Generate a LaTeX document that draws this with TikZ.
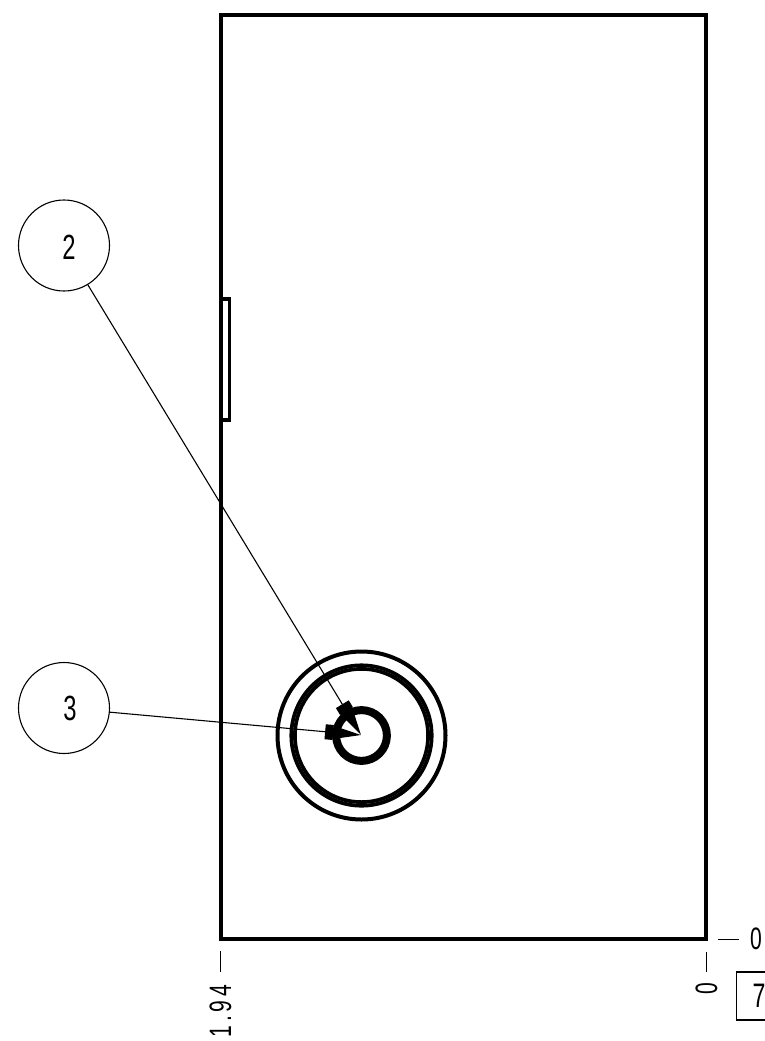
\documentclass[tikz,border=0pt]{standalone}
\usepackage{fontspec}
\setmainfont[FakeStretch=0.68]{Liberation Sans}
\usetikzlibrary{arrows.meta}
\tikzset{
    outline/.style={line width=4.5pt, line join=miter},
    ringline/.style={line width=3.7pt},
    balloon/.style={circle, draw, line width=1.1pt, inner sep=0pt, minimum size=91pt},
    ballooned/.style={line width=1.1pt, -{Rectangle[length=8pt,width=15pt,sep=0pt]Triangle[length=28pt,width=13pt]}},
    tick/.style={line width=1pt},
    digit/.style={inner sep=0pt, font=\fontsize{31}{31}\selectfont}
}
\begin{document}
\begin{tikzpicture}[x=1pt,y=-1pt]
    \useasboundingbox (0,0) rectangle (765,1041);

    % 外框和凸条
    \draw [outline] (221,15) rectangle (706,939);
    \draw [line width=3.2pt] (221,299) -- (229.5,299) -- (229.5,420) -- (221,420);

    % 绘制同心圆
    \draw [line width=4pt] (361.5,735.5) circle (84);
    \draw [ringline] (361.5,735.5) circle (70.2);
    \draw [ringline] (361.5,735.5) circle (66.6);
    \draw [line width=8pt] (361.5,735.5) circle (25.4);

    % 序号圆和引线
    \coordinate (center) at (361,735);
    \node [balloon] (balloon2) at (64,245.5) {};
    \node [balloon] (balloon3) at (64,708) {};
    \node [digit, font=\fontsize{35}{35}\selectfont] (num2) at (69,247) {2};
    \node [digit, font=\fontsize{35}{35}\selectfont] (num3) at (70,708.5) {3};
    \draw [ballooned] (balloon2) -- (center);
    \draw [ballooned] (balloon3) -- (center);

    % 标注尺寸
    \coordinate (tickA) at (718,939);
    \coordinate (tickB) at (739,939);
    \coordinate (tickC) at (706.5,952);
    \coordinate (tickD) at (706.5,972);
    \coordinate (tickE) at (220,951);
    \coordinate (tickF) at (220,972);
    \draw [tick] (tickA) -- (tickB);
    \draw [tick] (tickC) -- (tickD);
    \draw [tick] (tickE) -- (tickF);
    \node [digit] (zeroH) at (756,939) {0};
    \node [digit, rotate=90] (zeroV) at (706.5,989) {0};
    \node [digit, rotate=90] (depth) at (220.5,1011) {\addfontfeature{LetterSpace=12}1.94};
    \node [draw, line width=1.1pt, inner sep=0pt, minimum width=45pt, minimum height=48pt, font=\fontsize{34}{34}\selectfont] (basic) at (759,996) {7};
\end{tikzpicture}
\end{document}
